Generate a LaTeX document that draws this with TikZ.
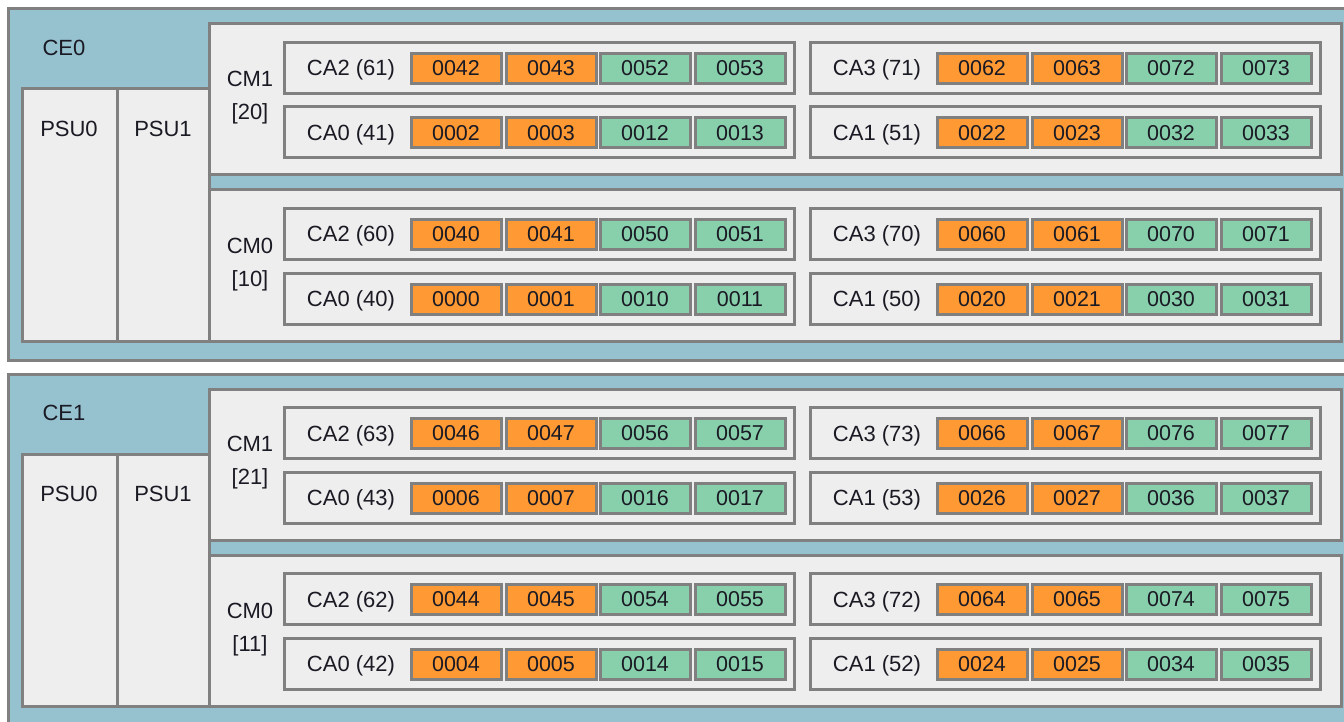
\documentclass[tikz,border=0pt]{standalone}
\usepackage{fontspec}
\setmainfont{Liberation Sans}
\definecolor{ceblue}{HTML}{96C1CF}
\definecolor{boxgray}{HTML}{EEEEEE}
\definecolor{linegray}{HTML}{808080}
\definecolor{orng}{HTML}{FF9933}
\definecolor{grn}{HTML}{88D0AC}
\definecolor{txt}{HTML}{1A1A24}
\tikzset{
  base/.style={draw=linegray, line width=3pt, inner sep=0pt, outer sep=0pt},
  cebox/.style={base, fill=ceblue, anchor=north west, minimum width=1380pt, minimum height=351pt},
  graybox/.style={base, fill=boxgray, anchor=north west},
  cabox/.style={base, fill=boxgray, anchor=west, minimum width=510pt, minimum height=51pt},
  cell/.style={base, minimum width=90pt, minimum height=30pt, font=\fontsize{21.5}{25}\selectfont, text=txt},
  ocell/.style={cell, fill=orng},
  gcell/.style={cell, fill=grn},
  lbl/.style={font=\fontsize{22}{33}\selectfont, text=txt, inner sep=0pt, align=center},
}
\newcommand\cagrp[8]{%
  \node[cabox] (#1) at (#2,#3) {};
  \node[lbl, anchor=base] (#1-l) at ({#2+67},{#3+8}) {#4};
  \node[ocell] (#1-1) at ({#2+172},{#3+0.5}) {#5};
  \node[ocell] (#1-2) at ({#2+267},{#3+0.5}) {#6};
  \node[gcell] (#1-3) at ({#2+361},{#3+0.5}) {#7};
  \node[gcell] (#1-4) at ({#2+456},{#3+0.5}) {#8};
}
\newcommand\ceblock[2]{%
  \node[cebox] (ce#1) at (8,#2) {};
  \node[lbl] (ce#1-l) at (64,{#2+39}) {CE#1};
  \node[graybox, minimum width=95pt, minimum height=252pt] (ce#1-psu0) at (22,{#2+80}) {};
  \node[graybox, minimum width=92pt, minimum height=252pt] (ce#1-psu1) at (117,{#2+80}) {};
  \node[lbl] (ce#1-psu0l) at (69,{#2+120}) {PSU0};
  \node[lbl] (ce#1-psu1l) at (163,{#2+120}) {PSU1};
  \node[graybox, minimum width=1132pt, minimum height=151pt] (ce#1-cm1) at (209,{#2+15}) {};
  \node[graybox, minimum width=1132pt, minimum height=151pt] (ce#1-cm0) at (209,{#2+181}) {};
}
\begin{document}
\begin{tikzpicture}[x=1pt, y=-1pt]
\useasboundingbox (0,0) rectangle (1344,722);
\fill[white] (0,0) rectangle (1344,722);
\clip (0,0) rectangle (1344,722);
% ---------- CE0 ----------
\ceblock{0}{9}
\node[lbl] (ce0-cm1l) at (250,98) {CM1\\{[20]}};
\node[lbl] (ce0-cm0l) at (250,264.5) {CM0\\{[10]}};
\cagrp{ce0-cm1-ca2}{284}{68}{CA2 (61)}{0042}{0043}{0052}{0053}
\cagrp{ce0-cm1-ca3}{810}{68}{CA3 (71)}{0062}{0063}{0072}{0073}
\cagrp{ce0-cm1-ca0}{284}{132.5}{CA0 (41)}{0002}{0003}{0012}{0013}
\cagrp{ce0-cm1-ca1}{810}{132.5}{CA1 (51)}{0022}{0023}{0032}{0033}
\cagrp{ce0-cm0-ca2}{284}{234}{CA2 (60)}{0040}{0041}{0050}{0051}
\cagrp{ce0-cm0-ca3}{810}{234}{CA3 (70)}{0060}{0061}{0070}{0071}
\cagrp{ce0-cm0-ca0}{284}{298.5}{CA0 (40)}{0000}{0001}{0010}{0011}
\cagrp{ce0-cm0-ca1}{810}{298.5}{CA1 (50)}{0020}{0021}{0030}{0031}
% ---------- CE1 ----------
\ceblock{1}{374}
\node[lbl] (ce1-cm1l) at (250,463) {CM1\\{[21]}};
\node[lbl] (ce1-cm0l) at (250,629.5) {CM0\\{[11]}};
\cagrp{ce1-cm1-ca2}{284}{433}{CA2 (63)}{0046}{0047}{0056}{0057}
\cagrp{ce1-cm1-ca3}{810}{433}{CA3 (73)}{0066}{0067}{0076}{0077}
\cagrp{ce1-cm1-ca0}{284}{497.5}{CA0 (43)}{0006}{0007}{0016}{0017}
\cagrp{ce1-cm1-ca1}{810}{497.5}{CA1 (53)}{0026}{0027}{0036}{0037}
\cagrp{ce1-cm0-ca2}{284}{599}{CA2 (62)}{0044}{0045}{0054}{0055}
\cagrp{ce1-cm0-ca3}{810}{599}{CA3 (72)}{0064}{0065}{0074}{0075}
\cagrp{ce1-cm0-ca0}{284}{663.5}{CA0 (42)}{0004}{0005}{0014}{0015}
\cagrp{ce1-cm0-ca1}{810}{663.5}{CA1 (52)}{0024}{0025}{0034}{0035}
\end{tikzpicture}
\end{document}
